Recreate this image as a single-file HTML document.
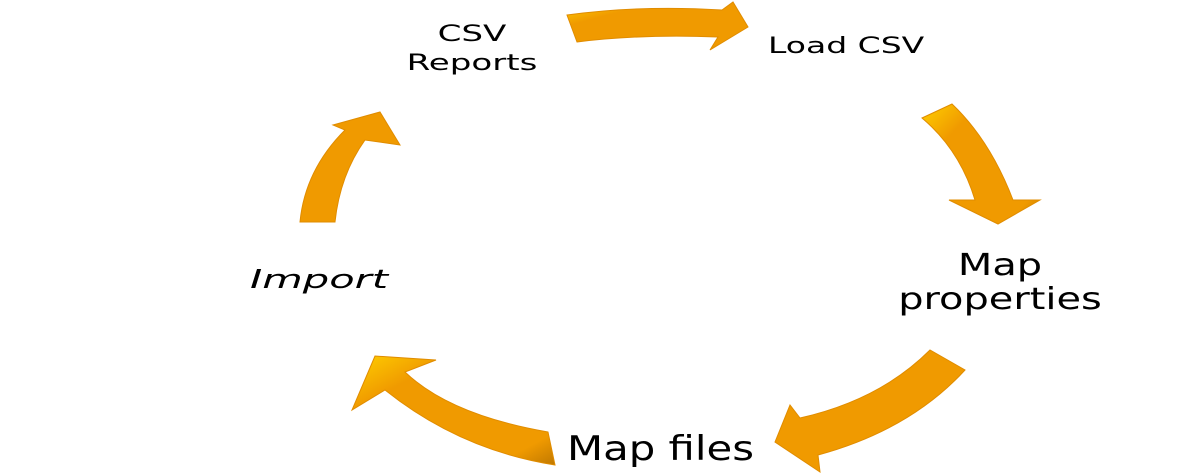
<!DOCTYPE html>
<html><head><style>
body{margin:0;width:1190px;height:476px;background:#fff;overflow:hidden;position:relative;font-family:"DejaVu Sans","Liberation Sans",sans-serif;color:#000}
.t{position:absolute;white-space:nowrap;text-align:center;line-height:1}
</style></head><body>
<svg width="1190" height="476" style="position:absolute;left:0;top:0">
<defs>
<linearGradient id="g" x1="0" y1="0" x2="1" y2="1">
<stop offset="0" stop-color="#ffd000"/><stop offset="0.25" stop-color="#f09a00"/><stop offset="0.85" stop-color="#f09a00"/><stop offset="1" stop-color="#c07800"/>
</linearGradient>
</defs>
<g fill="url(#g)" stroke="#e08c00" stroke-width="1">
<path d="M567,15 Q640,5 722,10 L733,2 L748,27 L710,50 L718,37 Q640,34 577,42 Z"/>
<path d="M922,118 L952,104 Q990,140 1013,200 L1040,200 L998,224 L949,200 L975,200 Q960,150 922,118 Z"/>
<path d="M930,350 Q880,400 800,418 L790,405 L775,442 L820,472 L818,455 Q910,430 965,370 Z"/>
<path d="M548,432 Q450,415 405,372 L436,360 L375,356 L352,410 L385,390 Q460,450 555,465 Z"/>
<path d="M300,222 Q305,170 345,130 L333,125 L380,112 L400,145 L365,140 Q340,175 335,222 Z"/>
</g>
</svg>
<div class="t" style="left:402px;top:20px;width:140px;font-size:22px;line-height:29px;transform:scaleX(1.55)">CSV<br>Reports</div>
<div class="t" style="left:768px;top:36px;font-size:22px;transform:scaleX(1.5);transform-origin:0 0">Load CSV</div>
<div class="t" style="left:895px;top:249px;width:210px;font-size:30px;line-height:34px;transform:scaleX(1.33)">Map<br>properties</div>
<div class="t" style="left:567px;top:432px;font-size:34px;transform:scaleX(1.23);transform-origin:0 0">Map files</div>
<div class="t" style="left:250px;top:267px;font-size:26px;font-style:italic;transform:scaleX(1.6);transform-origin:0 0">Import</div>
</body></html>
